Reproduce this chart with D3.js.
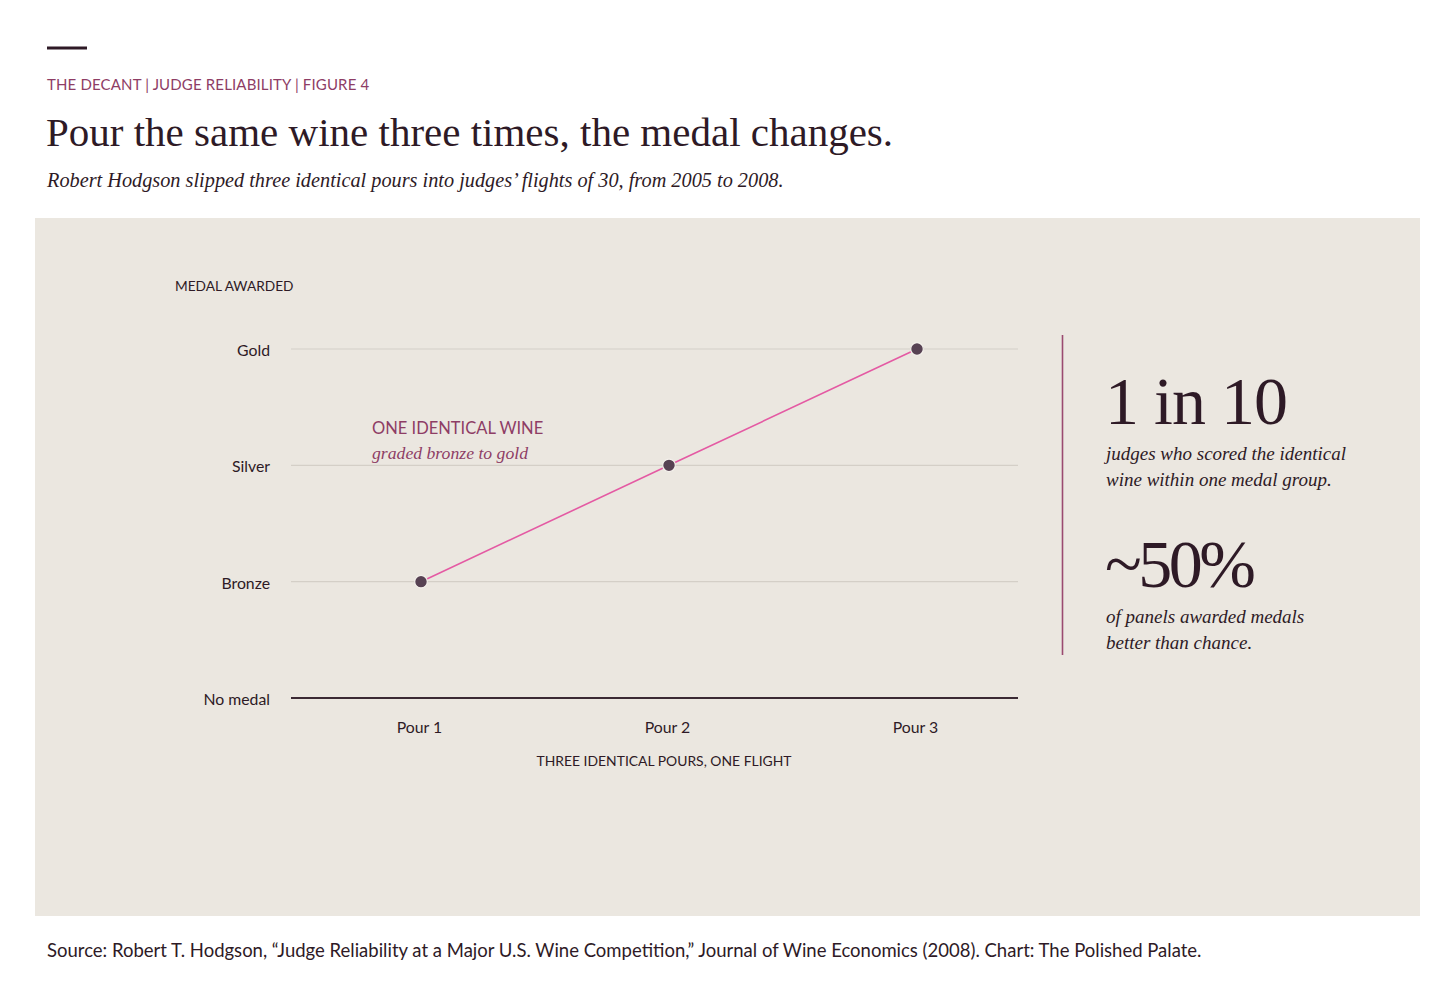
<!DOCTYPE html>
<html>
<head>
<meta charset="utf-8">
<script src="https://cdn.jsdelivr.net/npm/d3@7"></script>
<style>
  html, body { margin: 0; padding: 0; background: #ffffff; }
  svg { display: block; }
</style>
</head>
<body>
<svg id="chart" width="1456" height="986"></svg>
<script>
// ---- data ----
const pours = ["Pour 1", "Pour 2", "Pour 3"];
const medals = ["No medal", "Bronze", "Silver", "Gold"];
const medalAwarded = ["Bronze", "Silver", "Gold"];

const kicker = "THE DECANT | JUDGE RELIABILITY | FIGURE 4";
const title = "Pour the same wine three times, the medal changes.";
const subtitle = "Robert Hodgson slipped three identical pours into judges’ flights of 30, from 2005 to 2008.";
const yTitle = "MEDAL AWARDED";
const xTitle = "THREE IDENTICAL POURS, ONE FLIGHT";
const annotHead = "ONE IDENTICAL WINE";
const annotSub = "graded bronze to gold";
const stats = [
  { big: "1 in 10", lines: ["judges who scored the identical", "wine within one medal group."] },
  { big: "~50%", lines: ["of panels awarded medals", "better than chance."] }
];
const source = "Source: Robert T. Hodgson, “Judge Reliability at a Major U.S. Wine Competition,” Journal of Wine Economics (2008). Chart: The Polished Palate.";

// ---- style ----
const SERIF = "'Liberation Serif', 'DejaVu Serif', serif";
const SANS = "Lato, 'Open Sans', sans-serif";
const INK = "#2e1a26";
const PLUM = "#8e3d65";

const svg = d3.select("#chart");

// header
svg.append("rect").attr("x", 47).attr("y", 46.5).attr("width", 40).attr("height", 3).attr("fill", INK);
svg.append("text").attr("x", 47).attr("y", 90).attr("font-family", SANS).attr("font-size", 15)
  .attr("letter-spacing", 0.15).attr("fill", PLUM).text(kicker);
svg.append("text").attr("x", 46).attr("y", 146).attr("font-family", SERIF).attr("font-size", 41)
  .attr("fill", INK).text(title);
svg.append("text").attr("x", 47).attr("y", 187).attr("font-family", SERIF).attr("font-style", "italic")
  .attr("font-size", 20.3).attr("fill", INK).text(subtitle);

// panel
svg.append("rect").attr("x", 35).attr("y", 218).attr("width", 1385).attr("height", 698).attr("fill", "#ebe7e0");

// scales
const x = d3.scalePoint().domain(pours).range([421, 917]).padding(0);
const y = d3.scalePoint().domain(medals).range([698, 349]).padding(0);
const gridX0 = 291, gridX1 = 1018;

// gridlines
const g = svg.append("g");
g.selectAll("line.grid").data(medals.filter(m => m !== "No medal")).join("line")
  .attr("x1", gridX0).attr("x2", gridX1)
  .attr("y1", d => y(d)).attr("y2", d => y(d))
  .attr("stroke", "#d4cfc7").attr("stroke-width", 1.2);
// baseline
g.append("line").attr("x1", gridX0).attr("x2", gridX1).attr("y1", y("No medal")).attr("y2", y("No medal"))
  .attr("stroke", "#3b2a34").attr("stroke-width", 2);

// y axis labels
const yAxis = d3.axisLeft(y).tickSize(0).tickPadding(0);
const ya = svg.append("g").attr("transform", "translate(270,1)").call(yAxis);
ya.select(".domain").remove();
ya.selectAll("text").attr("font-family", SANS).attr("font-size", 15.8).attr("fill", INK).attr("dy", "0.35em");

// x axis labels
const xAxis = d3.axisBottom(x).tickSize(0).tickPadding(0);
const xa = svg.append("g").attr("transform", "translate(-2,722)").call(xAxis);
xa.select(".domain").remove();
xa.selectAll("text").attr("font-family", SANS).attr("font-size", 15.8).attr("fill", INK).attr("dy", "0.71em");

// axis titles
svg.append("text").attr("x", 175).attr("y", 291).attr("font-family", SANS).attr("font-size", 13.7)
  .attr("fill", INK).text(yTitle);
svg.append("text").attr("x", 664).attr("y", 766).attr("text-anchor", "middle").attr("font-family", SANS)
  .attr("font-size", 13.9).attr("fill", INK).text(xTitle);

// line
const pts = pours.map((p, i) => ({ pour: p, medal: medalAwarded[i] }));
const line = d3.line().x(d => x(d.pour)).y(d => y(d.medal));
svg.append("path").datum(pts).attr("d", line).attr("fill", "none")
  .attr("stroke", "#e45aa3").attr("stroke-width", 1.6);
svg.selectAll("circle.pt").data(pts).join("circle")
  .attr("cx", d => x(d.pour)).attr("cy", d => y(d.medal)).attr("r", 6.3)
  .attr("fill", "#574253").attr("stroke", "#f4f1ec").attr("stroke-width", 1.2);

// annotation
svg.append("text").attr("x", 372).attr("y", 434).attr("font-family", SANS).attr("font-size", 16.5)
  .attr("fill", PLUM).text(annotHead);
svg.append("text").attr("x", 372).attr("y", 459).attr("font-family", SERIF).attr("font-style", "italic")
  .attr("font-size", 17.7).attr("fill", PLUM).text(annotSub);

// right panel
svg.append("line").attr("x1", 1062.5).attr("x2", 1062.5).attr("y1", 335).attr("y2", 655)
  .attr("stroke", "#9a4a70").attr("stroke-width", 1.6);
const bigY = [424, 587];
const bigLS = [-1, -3.5];
stats.forEach((s, i) => {
  svg.append("text").attr("x", 1105).attr("y", bigY[i]).attr("font-family", SERIF).attr("font-size", 68)
    .attr("letter-spacing", bigLS[i]).attr("fill", INK).text(s.big);
  s.lines.forEach((l, j) => {
    svg.append("text").attr("x", 1106).attr("y", bigY[i] + 36 + j * 26).attr("font-family", SERIF)
      .attr("font-style", "italic").attr("font-size", 19).attr("fill", INK).text(l);
  });
});

// source
svg.append("text").attr("x", 47).attr("y", 957).attr("font-family", SANS).attr("font-size", 18.5)
  .attr("fill", INK).text(source);
</script>
</body>
</html>
